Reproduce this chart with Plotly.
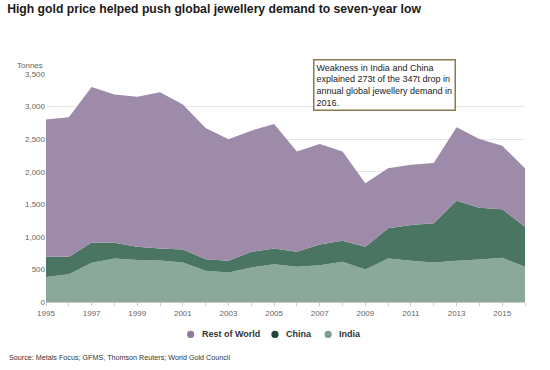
import plotly.graph_objects as go

years = list(range(1995, 2017))
total = [2800, 2835, 3300, 3185, 3150, 3220, 3030, 2670, 2500, 2630, 2733,
         2311, 2425, 2311, 1824, 2055, 2106, 2132, 2681, 2502, 2399, 2055]
china_plus_india = [693, 693, 915, 910, 848, 823, 807, 658, 632, 770, 823,
                    770, 884, 940, 848, 1131, 1182, 1208, 1556, 1448, 1424, 1156]
india = [385, 427, 601, 669, 643, 637, 607, 478, 453, 530, 581,
         540, 565, 616, 499, 669, 632, 607, 632, 653, 678, 540]
china = [ci - i for ci, i in zip(china_plus_india, india)]
rest_of_world = [t - ci for t, ci in zip(total, china_plus_india)]

y_ticks = [0, 500, 1000, 1500, 2000, 2500, 3000, 3500]
x_ticks = list(range(1995, 2016, 2))

legend_names = ["Rest of World", "China", "India"]
legend_colors = ["#8e7a9e", "#1d4434", "#7f9c90"]

C_ROW = "#9e8aa9"
C_CHINA = "#4b7563"
C_INDIA = "#8ba99b"

fig = go.Figure()
fig.add_trace(go.Scatter(x=years, y=india, name="India", stackgroup="one",
                         mode="none", fillcolor=C_INDIA, showlegend=False))
fig.add_trace(go.Scatter(x=years, y=china, name="China", stackgroup="one",
                         mode="none", fillcolor=C_CHINA, showlegend=False))
fig.add_trace(go.Scatter(x=years, y=rest_of_world, name="Rest of World", stackgroup="one",
                         mode="none", fillcolor=C_ROW, showlegend=False))

fig.update_layout(
    width=550, height=370,
    margin=dict(l=46, r=25, t=74, b=68, autoexpand=False),
    paper_bgcolor="white", plot_bgcolor="white",
    showlegend=False,
    font=dict(family="Liberation Sans, Arial, sans-serif", color="#555555", size=9),
    title=dict(text="<b>High gold price helped push global jewellery demand to seven-year low</b>",
               x=0.013, xanchor="left", y=0.988, yanchor="top",
               font=dict(size=12.2, color="#1a1a1a")),
    xaxis=dict(range=[1995, 2016], tickvals=x_ticks, ticktext=[str(v) for v in x_ticks],
               showgrid=False, showline=True, linecolor="#c8c8c8", ticks="outside",
               ticklen=3, tickcolor="#c8c8c8", tickfont=dict(size=8, color="#666666"),
               minor=dict(dtick=1, ticks="outside", ticklen=3, tickcolor="#d0d0d0"),
               zeroline=False, automargin=False),
    yaxis=dict(range=[0, 3500], tickvals=y_ticks,
               ticktext=[f"{v:,}" for v in y_ticks], showgrid=True,
               gridcolor="#e6e6e6", gridwidth=1, zeroline=False, showline=False,
               tickfont=dict(size=8, color="#666666"), automargin=False),
)

# manual legend (circle markers + bold labels)
marker_x = [0.302, 0.478, 0.589]
for name, col, mx in zip(legend_names, legend_colors, marker_x):
    fig.add_shape(type="circle", xref="paper", yref="paper",
                  xsizemode="pixel", ysizemode="pixel", xanchor=mx, yanchor=-0.142,
                  x0=-3.6, x1=3.6, y0=-3.6, y1=3.6,
                  fillcolor=col, line=dict(width=0))
    fig.add_annotation(xref="paper", yref="paper", x=mx + 0.0185, y=-0.142,
                       xanchor="left", yanchor="middle", text=f"<b>{name}</b>",
                       showarrow=False, font=dict(size=9, color="#333333"))

fig.add_annotation(xref="paper", yref="paper", x=-0.065, y=1.01, xanchor="left", yanchor="bottom",
                   text="Tonnes", showarrow=False, font=dict(size=8, color="#666666"))

fig.add_annotation(xref="paper", yref="paper", x=0.557, y=1.065, xanchor="left", yanchor="top",
                   text="Weakness in India and China<br>explained 273t of the 347t drop in<br>annual global jewellery demand in<br>2016.",
                   align="left", showarrow=False, bgcolor="white",
                   bordercolor="#8c7a4f", borderwidth=1.5, borderpad=2,
                   font=dict(size=9, color="#222222"))

fig.add_annotation(xref="paper", yref="paper", x=-0.082, y=-0.215, xanchor="left", yanchor="top",
                   text="Source: Metals Focus; GFMS, Thomson Reuters; World Gold Council",
                   showarrow=False, font=dict(size=7.2, color="#333333"))

fig.write_html("out.html", config={"displayModeBar": False},
               post_script="document.body.style.margin='0';")
